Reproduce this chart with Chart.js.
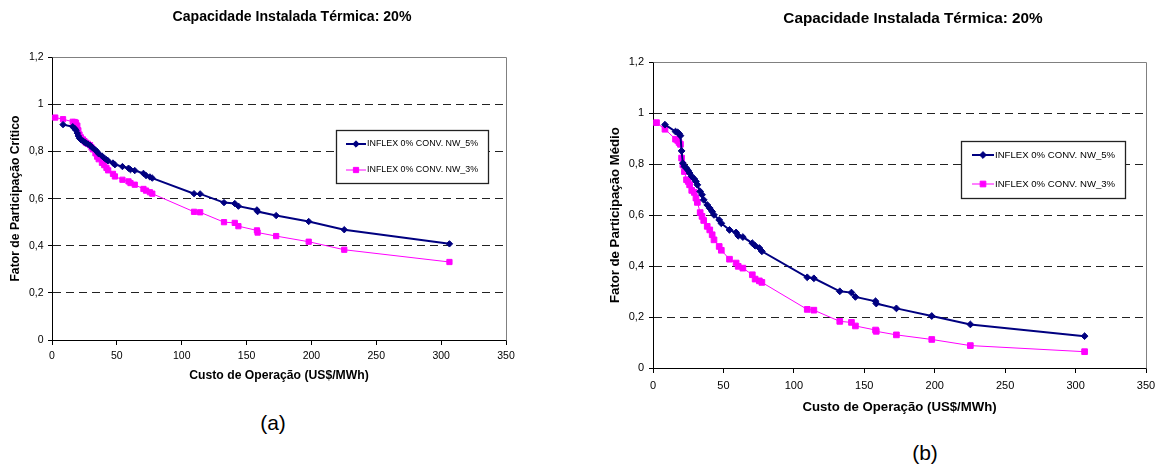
<!DOCTYPE html>
<html><head><meta charset="utf-8">
<script src="https://cdn.jsdelivr.net/npm/chart.js@4.4.1/dist/chart.umd.min.js"></script>
<style>
html,body{margin:0;padding:0;background:#fff;width:1161px;height:466px;overflow:hidden;position:relative;font-family:"Liberation Sans",Arial,sans-serif;}
#wa{position:absolute;left:0;top:0;width:584px;height:400px;}
#wb{position:absolute;left:600px;top:0;width:626px;height:430px;}
.cap{position:absolute;font-size:21px;color:#000;transform:translate(-50%,-50%);white-space:nowrap;}
</style></head><body>
<div id="wa"><canvas id="ca"></canvas></div>
<div id="wb"><canvas id="cb"></canvas></div>
<div class="cap" id="la" style="left:273px;top:423px"></div>
<div class="cap" id="lb" style="left:925px;top:453px"></div>
<script>
const chartTitle = 'Capacidade Instalada Térmica: 20%';
const xAxisTitle = 'Custo de Operação (US$/MWh)';
const yTitleA = 'Fator de Participação Crítico';
const yTitleB = 'Fator de Participação Médio';
const seriesNames = ['INFLEX 0% CONV. NW_5%', 'INFLEX 0% CONV. NW_3%'];
const panelLabels = ['(a)', '(b)'];
const yTickLabels = ['0', '0,2', '0,4', '0,6', '0,8', '1', '1,2'];
const xTickLabels = ['0', '50', '100', '150', '200', '250', '300', '350'];

const costX = [2.5, 8.5, 16, 17.5, 18.5, 19.5, 20.3, 21.2, 22.3, 23.8, 25, 26, 27.5, 29.3, 30.5, 31.5, 33.5, 34.8, 36, 38.5, 40.3, 42, 43.3, 47, 48.5, 54.3, 59, 60.5, 63.8, 70.5, 72.5, 75.5, 77.3, 109.5, 114.2, 132.6, 140.9, 143.7, 158, 158.5, 172.8, 197.9, 225.3, 306.4];
const critNW5 = [null, 0.914, 0.905, 0.898, 0.890, 0.878, 0.866, 0.856, 0.850, 0.845, 0.840, 0.836, 0.832, 0.826, 0.820, 0.815, 0.806, 0.799, 0.790, 0.781, 0.772, 0.765, 0.760, 0.751, 0.744, 0.736, 0.729, 0.723, 0.719, 0.707, 0.698, 0.692, 0.687, 0.621, 0.620, 0.583, 0.579, 0.568, 0.552, 0.545, 0.528, 0.503, 0.468, 0.408];
const critNW3 = [0.944, 0.937, 0.926, 0.925, 0.922, 0.910, 0.890, 0.872, 0.860, 0.851, 0.844, 0.838, 0.833, 0.827, 0.817, 0.809, 0.792, 0.778, 0.767, 0.752, 0.742, 0.730, 0.720, 0.705, 0.694, 0.680, 0.673, 0.666, 0.659, 0.641, 0.634, 0.627, 0.621, 0.544, 0.542, 0.500, 0.497, 0.483, 0.465, 0.456, 0.441, 0.417, 0.383, 0.331];
const medNW5 = [null, 0.955, 0.928, 0.925, 0.920, 0.912, 0.852, 0.804, 0.791, 0.784, 0.775, 0.765, 0.752, 0.742, 0.732, 0.719, 0.693, 0.680, 0.660, 0.640, 0.627, 0.614, 0.601, 0.581, 0.568, 0.542, 0.532, 0.519, 0.514, 0.490, 0.480, 0.471, 0.458, 0.356, 0.352, 0.301, 0.296, 0.279, 0.262, 0.253, 0.234, 0.204, 0.171, 0.125];
const medNW3 = [0.963, 0.937, 0.898, 0.893, 0.885, 0.878, 0.824, 0.797, 0.771, 0.739, 0.732, 0.719, 0.697, 0.689, 0.667, 0.650, 0.610, 0.595, 0.579, 0.556, 0.542, 0.523, 0.503, 0.477, 0.462, 0.427, 0.412, 0.399, 0.392, 0.366, 0.349, 0.342, 0.336, 0.230, 0.227, 0.183, 0.179, 0.165, 0.149, 0.144, 0.130, 0.112, 0.088, 0.064];

document.getElementById('la').textContent = panelLabels[0];
document.getElementById('lb').textContent = panelLabels[1];

const FONT = '"Liberation Sans", Arial, sans-serif';
const pts = ys => costX.map((x, i) => ({x: x, y: ys[i]}));

const frame = {
  id: 'frame',
  beforeDatasetsDraw(chart) {
    const a = chart.chartArea, ctx = chart.ctx;
    ctx.save();
    ctx.strokeStyle = '#808080'; ctx.lineWidth = 1;
    ctx.beginPath();
    ctx.moveTo(Math.round(a.left) + 0.5, Math.round(a.top) + 0.5);
    ctx.lineTo(Math.round(a.right) + 0.5, Math.round(a.top) + 0.5);
    ctx.lineTo(Math.round(a.right) + 0.5, Math.round(a.bottom) + 0.5);
    ctx.stroke();
    ctx.restore();
  }
};

const boxLegend = {
  id: 'boxLegend',
  afterDatasetsDraw(chart, args, o) {
    const ctx = chart.ctx;
    ctx.save();
    ctx.fillStyle = '#fff';
    ctx.fillRect(o.x, o.y, o.w, o.h);
    ctx.strokeStyle = '#222'; ctx.lineWidth = 1.3;
    ctx.strokeRect(o.x + 0.5, o.y + 0.5, o.w, o.h);
    chart.data.datasets.forEach((ds, i) => {
      const cy = o.y + o.rows[i];
      ctx.strokeStyle = ds.borderColor; ctx.lineWidth = ds.borderWidth;
      ctx.beginPath(); ctx.moveTo(o.x + o.s1, cy); ctx.lineTo(o.x + o.s2, cy); ctx.stroke();
      ctx.fillStyle = ds.pointBackgroundColor; ctx.strokeStyle = ds.borderColor; ctx.lineWidth = 1;
      Chart.helpers.drawPoint(ctx, {pointStyle: ds.pointStyle, radius: ds.pointRadius, borderWidth: 1, rotation: 0}, o.x + (o.s1 + o.s2) / 2, cy);
      ctx.fillStyle = '#000';
      ctx.font = o.fs + 'px ' + FONT;
      ctx.textBaseline = 'middle'; ctx.textAlign = 'left';
      ctx.fillText(ds.label, o.x + o.tx, cy);
    });
    ctx.restore();
  }
};

function makeChart(id, s5, s3, yTitle, c) {
  return new Chart(document.getElementById(id), {
    type: 'line',
    data: {
      datasets: [
        {label: seriesNames[0], data: pts(s5), borderColor: '#000080', backgroundColor: '#000080', pointBackgroundColor: '#000080',
         pointStyle: 'rectRot', pointRadius: c.r5, pointBorderWidth: 1, borderWidth: 2, tension: 0, yAxisID: 'y'},
        {label: seriesNames[1], data: pts(s3), borderColor: '#FF00FF', backgroundColor: '#FF00FF', pointBackgroundColor: '#FF00FF',
         pointStyle: 'rect', pointRadius: c.r3, pointBorderWidth: 1, borderWidth: 1, tension: 0, yAxisID: 'y'}
      ]
    },
    options: {
      responsive: true, maintainAspectRatio: false, animation: false,
      layout: {padding: 0},
      plugins: {
        legend: {display: false}, tooltip: {enabled: false},
        title: {display: true, text: chartTitle, color: '#000', font: {family: FONT, size: c.tfs, weight: 'bold'},
                padding: {top: c.tpT, bottom: c.tpB}},
        boxLegend: c.leg
      },
      scales: {
        x: {
          type: 'linear', min: 0, max: 350,
          afterFit: s => { s.height = c.xh; },
          ticks: {stepSize: 50, color: '#000', font: {family: FONT, size: c.fs}, padding: c.xtp, maxRotation: 0,
                  callback: (v, i) => xTickLabels[i]},
          grid: {drawOnChartArea: false, drawTicks: true, tickLength: 5, color: '#000', tickColor: '#000'},
          border: {display: true, color: '#000', width: 1},
          title: {display: true, text: xAxisTitle, color: '#000', font: {family: FONT, size: c.afs, weight: 'bold'},
                  padding: {top: 0, bottom: c.xtb}}
        },
        y: {
          position: 'left', min: 0, max: 1.2,
          afterFit: s => { s.width = c.yw; },
          ticks: {stepSize: 0.2, color: '#000', font: {family: FONT, size: c.fs}, padding: c.ytkp,
                  callback: (v, i) => yTickLabels[i]},
          grid: {drawTicks: true, tickLength: 4, lineWidth: 1,
                 color: ctx => (ctx.tick && (ctx.tick.value === 0 || ctx.tick.value > 1.1)) ? 'rgba(0,0,0,0)' : '#222',
                 tickColor: '#000', tickBorderDash: []},
          border: {display: true, color: '#000', width: 1, dash: [8, 5]},
          title: {display: true, text: yTitle, color: '#000', font: {family: FONT, size: c.afs, weight: 'bold'},
                  padding: {top: c.ytp, bottom: 0}}
        },
        yR: {
          position: 'right', display: true, min: 0, max: 1,
          afterFit: s => { s.width = c.rw; },
          ticks: {display: false}, grid: {display: false}, border: {display: false}
        }
      }
    },
    plugins: [frame, boxLegend]
  });
}

Chart.defaults.font.family = FONT;

const chA = makeChart('ca', critNW5, critNW3, yTitleA, {
  r5: 3.2, r3: 3.7, tfs: 14.1, tpT: 8.5, tpB: 31.8, xh: 60, fs: 10.5, xtp: 5, afs: 12.2, xtb: 16.7, yw: 52, ytkp: 4.5, ytp: 8.2, rw: 78,
  leg: {x: 336, y: 130, w: 152, h: 53, rows: [14, 40], s1: 10, s2: 30, tx: 31, fs: 8.9}
});
const chB = makeChart('cb', medNW5, medNW3, yTitleB, {
  r5: 3.4, r3: 4.0, tfs: 15.3, tpT: 9.8, tpB: 34.1, xh: 62, fs: 11, xtp: 6, afs: 13.2, xtb: 15.1, yw: 53, ytkp: 5, ytp: 7.6, rw: 80,
  leg: {x: 361, y: 141, w: 164, h: 57, rows: [14, 43], s1: 11, s2: 33, tx: 34, fs: 9.6}
});
</script>
</body></html>
